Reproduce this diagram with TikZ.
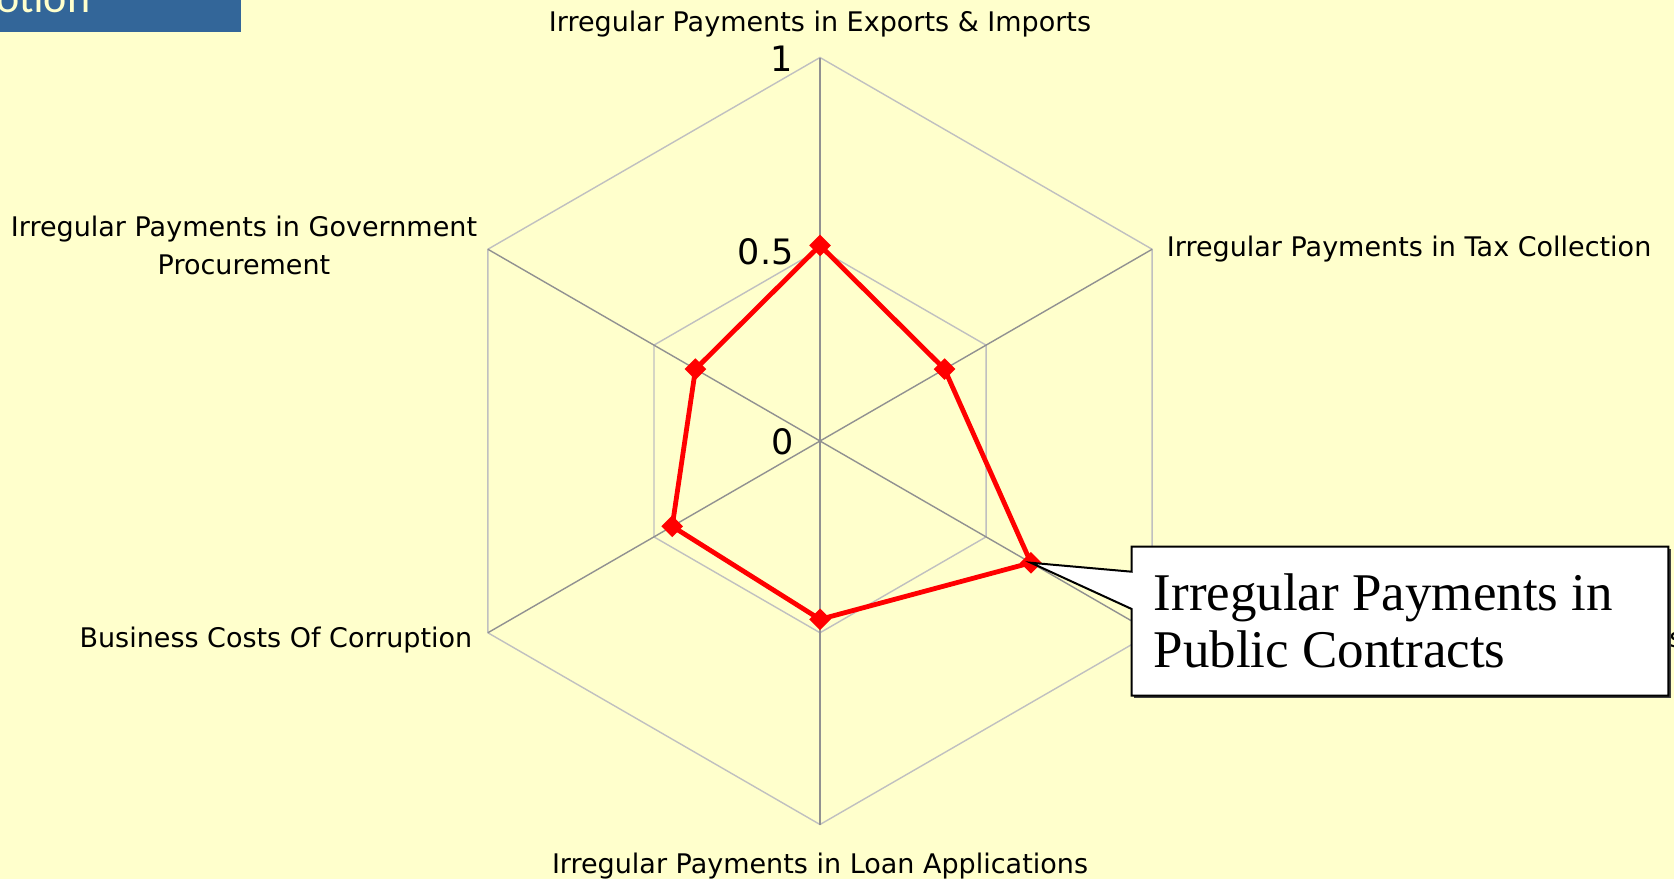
\documentclass[tikz,border=0pt]{standalone}
\usepackage{fontspec}
\setmainfont{DejaVu Sans}
\newfontfamily\labfont{DejaVu Sans}
\newfontfamily\serffont{Liberation Serif}
\newfontfamily\titlefont{Carlito}
\usetikzlibrary{shapes.geometric,calc}
\definecolor{bgyellow}{RGB}{255,255,204}
\definecolor{titleblue}{RGB}{51,102,153}
\definecolor{spokegray}{RGB}{145,145,145}
\definecolor{gridgray}{RGB}{192,192,192}
\begin{document}
\begin{tikzpicture}[x=0.5pt,y=-0.5pt,
  spoke/.style={draw=spokegray, line width=0.7pt},
  gridline/.style={draw=gridgray, line width=0.7pt},
  series/.style={draw=red, line width=2.4pt, line join=round},
  mk/.style={diamond, fill=red, inner sep=0pt, minimum size=11pt},
  axlab/.style={font=\labfont\fontsize{13.5}{15}\selectfont, text=black, inner sep=0pt},
  numlab/.style={font=\labfont\fontsize{17.5}{20}\selectfont, text=black, inner sep=0pt, anchor=east},
  calloutline/.style={draw=black, line width=1pt, fill=white, line join=miter},
  callouttext/.style={font=\serffont\fontsize{26.5}{28.5}\selectfont, text=black, inner sep=0pt, anchor=base west},
]
\useasboundingbox (0,0) rectangle (1674,879);
\clip (0,0) rectangle (1674,879);
\fill[bgyellow] (0,0) rectangle (1674,879);

% title bar fragment
\fill[titleblue] (0,0) rectangle (240.7,31.7);
\node[anchor=base east, text=bgyellow, font=\titlefont\fontsize{22}{24}\selectfont, inner sep=0pt] (title) at (90.7,12) {otion};

% geometry
\coordinate (C) at (820,441);
\coordinate (V1) at (820,57.5);
\coordinate (V2) at (1152.12,249.25);
\coordinate (V3) at (1152.12,632.75);
\coordinate (V4) at (820,824.5);
\coordinate (V5) at (487.88,632.75);
\coordinate (V6) at (487.88,249.25);
\foreach \i in {1,...,6} { \coordinate (H\i) at ($(C)!0.5!(V\i)$); }

% grid
\draw[gridline] (V1) -- (V2) -- (V3) -- (V4) -- (V5) -- (V6) -- cycle;
\draw[gridline] (H1) -- (H2) -- (H3) -- (H4) -- (H5) -- (H6) -- cycle;
\foreach \i in {1,...,6} { \draw[spoke] (C) -- (V\i); }

% data series
\coordinate (P1) at ($(C)!0.51!(V1)$);
\coordinate (P2) at ($(C)!0.375!(V2)$);
\coordinate (P3) at ($(C)!0.635!(V3)$);
\coordinate (P4) at ($(C)!0.465!(V4)$);
\coordinate (P5) at ($(C)!0.445!(V5)$);
\coordinate (P6) at ($(C)!0.375!(V6)$);
\draw[series] (P1) -- (P2) -- (P3) -- (P4) -- (P5) -- (P6) -- cycle;
\foreach \i in {1,...,6} { \node[mk] (m\i) at (P\i) {}; }

% axis values
\node[numlab] (n1) at (793,59) {1};
\node[numlab] (n05) at (794,252) {0.5};
\node[numlab] (n0) at (794,442) {0};

% category labels
\node[axlab, anchor=base] (l1) at (820,31) {Irregular Payments in Exports \& Imports};
\node[axlab, anchor=base west] (l2) at (1166.5,256) {Irregular Payments in Tax Collection};
\node[axlab, anchor=base west] (l3) at (1166.5,647.3) {Irregular Payments in Public Contracts};
\node[axlab, anchor=base] (l4) at (820,873.6) {Irregular Payments in Loan Applications};
\node[axlab, anchor=base east] (l5) at (472.7,647.3) {Business Costs Of Corruption};
\node[axlab, anchor=base] (l6a) at (244,236.7) {Irregular Payments in Government};
\node[axlab, anchor=base] (l6b) at (244,274) {Procurement};

% callout
\coordinate (cbNW) at (1131.7,546.7);
\coordinate (cbNE) at (1668.3,546.7);
\coordinate (cbSE) at (1668.3,695.7);
\coordinate (cbSW) at (1131.7,695.7);
\coordinate (cbA) at (1131.7,571.7);
\coordinate (cbB) at (1131.7,609);
\fill[black!75] ([shift={(2.5,2.5)}]cbNW) rectangle ([shift={(2.5,2.5)}]cbSE);
\path[calloutline] (cbNW) -- (cbNE) -- (cbSE) -- (cbSW) -- (cbB) -- (m3.center) -- (cbA) -- cycle;
\node[callouttext] (ct1) at (1153.3,610) {Irregular Payments in};
\node[callouttext] (ct2) at (1153.3,667) {Public Contracts};
\end{tikzpicture}
\end{document}
